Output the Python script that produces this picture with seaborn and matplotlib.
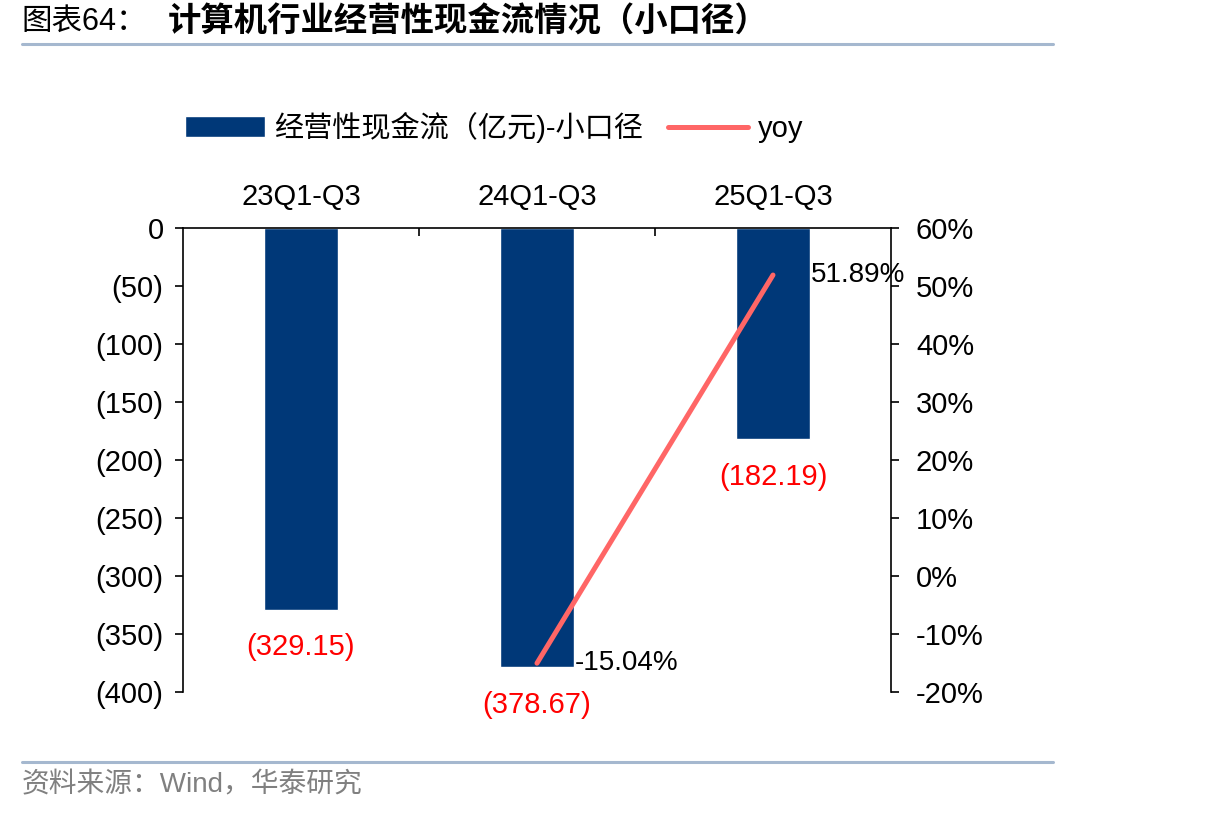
import numpy as np
import pandas as pd
import matplotlib
matplotlib.use("Agg")
import matplotlib.pyplot as plt
import matplotlib.ticker as mticker
import seaborn as sns

sns.set_style("white")
plt.rcParams['font.family'] = ['Liberation Sans', 'Noto Sans CJK SC', 'DejaVu Sans']
plt.rcParams['text.color'] = 'black'
plt.rcParams['xtick.color'] = 'black'
plt.rcParams['ytick.color'] = 'black'

# data
categories = ['23Q1-Q3', '24Q1-Q3', '25Q1-Q3']
cash_flow = [-329.15, -378.67, -182.19]          # 亿元
yoy = [np.nan, -15.04, 51.89]                    # %
bar_name = '经营性现金流（亿元)-小口径'
line_name = 'yoy'

bar_color = '#003878'
line_color = '#FF6666'

df = pd.DataFrame({'cat': categories, 'cf': cash_flow, 'yoy': yoy})
df['pos'] = np.arange(len(df))

fig = plt.figure(figsize=(12.06, 8.16), dpi=100)
ax = fig.add_axes([0.1517, 0.152, 0.5871, 0.5686])

sns.barplot(data=df, x='cat', y='cf', color=bar_color, width=0.31,
            saturation=1, ax=ax, label=bar_name)
ax.set_ylim(-400, 0)
ax.set_xlim(-0.5, 2.5)
ax.set_yticks(np.arange(-400, 1, 50))
ax.yaxis.set_major_formatter(mticker.FuncFormatter(
    lambda v, p: '0' if v == 0 else f'({abs(v):.0f})'))
ax.set_xlabel('')
ax.set_ylabel('')

# category labels on top, tick marks between categories
ax.xaxis.tick_top()
ax.set_xticks(df['pos'])
ax.set_xticklabels(categories)
ax.set_xticks([0.5, 1.5], minor=True)
ax.tick_params(axis='x', which='major', length=0, pad=12, labelsize=21)
ax.tick_params(axis='x', which='minor', direction='in', length=6, width=1.2, top=True, bottom=False)
ax.tick_params(axis='y', direction='out', length=6, width=1.2, pad=8, labelsize=21, left=True)
for side in ['left', 'top', 'right']:
    ax.spines[side].set_visible(True)
    ax.spines[side].set_color('black')
    ax.spines[side].set_linewidth(1.2)
ax.spines['bottom'].set_visible(False)

for x, v in zip(df['pos'], df['cf']):
    ax.annotate(f'({abs(v):.2f})', (x, v), xytext=(0, -27), textcoords='offset points',
                ha='center', va='center', color='red', fontsize=21)

ax2 = ax.twinx()
sns.lineplot(data=df.dropna(), x='pos', y='yoy', color=line_color, linewidth=3.6,
             ax=ax2, label=line_name, legend=False)
ax2.lines[0].set_solid_capstyle('round')
ax2.set_ylim(-20, 60)
ax2.set_yticks(np.arange(-20, 61, 10))
ax2.yaxis.set_major_formatter(mticker.FuncFormatter(lambda v, p: f'{v:.0f}%'))
ax2.set_xlim(-0.5, 2.5)
ax2.set_xlabel('')
ax2.set_ylabel('')
ax2.tick_params(axis='y', direction='out', length=6, width=1.2, pad=12, labelsize=21, right=True)
for side in ['left', 'top', 'right', 'bottom']:
    ax2.spines[side].set_visible(False)
ax2.grid(False)
ax.grid(False)

for x, v in zip(df['pos'], df['yoy']):
    if np.isnan(v):
        continue
    ax2.annotate(f'{v:.2f}%', (x, v), xytext=(27, 0), textcoords='offset points',
                 ha='left', va='center', color='black', fontsize=20)

if ax.get_legend() is not None:
    ax.get_legend().remove()
h1, l1 = ax.get_legend_handles_labels()
h2, l2 = ax2.get_legend_handles_labels()
fig.legend(h1 + h2, l1 + l2, loc='center left', bbox_to_anchor=(0.153, 0.844),
           ncol=2, frameon=False, fontsize=21, handlelength=2.75, handletextpad=0.33,
           columnspacing=0.85, borderpad=0, borderaxespad=0)

# header and footer
fig.text(0.018, 0.973, '图表64：', fontsize=22, va='center', ha='left')
fig.text(0.139, 0.973, '计算机行业经营性现金流情况（小口径）', fontsize=24,
         fontweight='bold', va='center', ha='left')
fig.add_artist(plt.Line2D([0.018, 0.873], [1 - 44 / 816] * 2, color='#A5B8CF', lw=2.2))
fig.add_artist(plt.Line2D([0.018, 0.873], [1 - 762 / 816] * 2, color='#A5B8CF', lw=2.2))
fig.text(0.018, 1 - 785 / 816, '资料来源：Wind，华泰研究', fontsize=20, color='#808080',
         va='center', ha='left')

fig.savefig('out.png', dpi=100)
